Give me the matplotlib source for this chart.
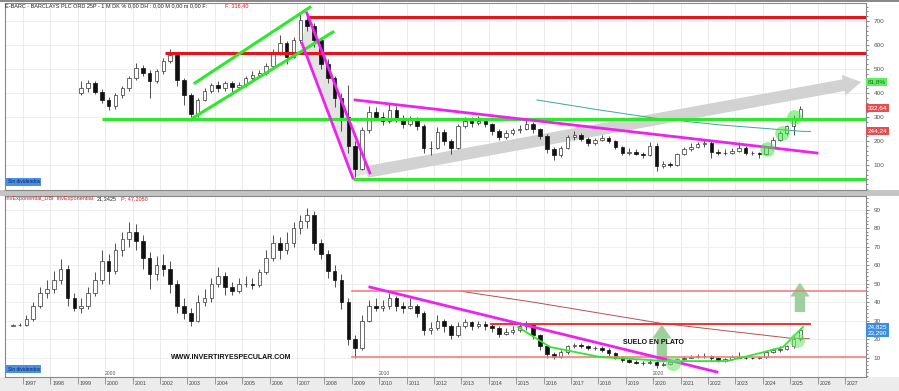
import numpy as np
import matplotlib.pyplot as plt
from matplotlib.patches import Rectangle, Polygon

plt.rcParams['font.family'] = ['Liberation Sans', 'DejaVu Sans']

# ---- Barclays price, quarterly candles (pence) from 1999 Q1 ----
top_start = 1999.0
top_open0 = 400
top_close = [420, 440, 405, 372, 345, 392, 420, 462, 505, 482, 452, 490,
             532, 560, 455, 392, 312, 372, 410, 432, 420, 442, 425, 432,
             462, 476, 482, 512, 572, 610, 552, 622, 705, 680, 622, 520,
             462, 380, 300, 180, 85, 245, 322, 300, 282, 330, 292, 270,
             290, 262, 172, 172, 236, 200, 172, 262, 282, 276, 284, 270,
             240, 216, 232, 246, 252, 272, 248, 222, 166, 142, 172, 216,
             226, 210, 192, 206, 212, 200, 176, 152, 156, 146, 142, 180,
             95, 104, 100, 146, 166, 176, 186, 192, 156, 150, 150, 160,
             172, 150, 150, 146, 176, 206, 232, 262, 296, 332]
top_high = [448, 456, 450, 418, 385, 400, 430, 472, 525, 515, 495, 500,
            545, 585, 565, 462, 400, 380, 420, 440, 448, 452, 450, 445,
            470, 490, 495, 525, 585, 640, 615, 635, 735, 720, 690, 630,
            540, 470, 400, 435, 200, 260, 345, 340, 320, 360, 345, 310,
            305, 300, 270, 200, 260, 250, 210, 270, 300, 300, 305, 295,
            275, 250, 245, 255, 265, 295, 280, 255, 230, 175, 180, 225,
            240, 232, 215, 212, 225, 220, 205, 180, 170, 165, 155, 195,
            190, 115, 112, 150, 175, 190, 195, 205, 198, 168, 165, 170,
            195, 180, 160, 155, 180, 215, 240, 268, 310, 345]
top_low = [390, 405, 395, 360, 330, 335, 380, 410, 455, 470, 380, 440,
           480, 525, 430, 350, 285, 300, 365, 400, 405, 410, 405, 415,
           425, 450, 465, 475, 505, 560, 520, 545, 610, 660, 590, 500,
           440, 340, 240, 150, 50, 80, 235, 290, 265, 275, 280, 255,
           262, 245, 150, 140, 165, 185, 145, 165, 255, 260, 265, 260,
           225, 205, 210, 225, 235, 245, 235, 210, 150, 120, 135, 165,
           205, 200, 180, 185, 200, 190, 165, 140, 140, 140, 130, 138,
           75, 88, 92, 95, 140, 160, 170, 175, 130, 140, 140, 145,
           155, 140, 142, 130, 140, 170, 200, 225, 225, 290]

# ---- Relative indicator (InvExponential), quarterly candles from 1996 Q3 ----
bot_start = 1996.5
bot_open0 = 27.2
bot_close = [27.5, 27.8, 31, 38, 45, 47, 52, 58, 42, 37, 38, 45, 52, 62,
             57, 68, 74, 78, 73, 64, 55, 60, 58, 50, 38, 34, 30, 40, 42, 50,
             54, 48, 46, 50, 50, 49, 56, 64, 72, 68, 72, 80, 84, 87, 72, 66,
             57, 52, 40, 20, 15, 30, 38, 37, 38, 42, 38, 37, 38, 34, 25, 26,
             30, 27, 22, 27, 29, 27, 28, 27, 26, 23, 24, 25, 27, 27.5, 22, 16,
             12, 10.5, 13, 16, 16.8, 16, 15, 15, 14, 12.5, 10, 8.5,
             7.5, 7, 7, 7.8, 6, 6.5, 7.5, 9, 10, 10.5, 11, 11, 10, 8, 9, 10.5,
             10, 9.8, 9.7, 10.5, 13, 14, 14.5, 16, 20, 24.8]
bot_high = [28, 28.5, 33, 40, 48, 52, 57, 63, 60, 45, 42, 48, 56, 68,
            66, 72, 78, 83, 82, 76, 67, 65, 66, 62, 52, 42, 37, 44, 47, 53,
            59, 56, 51, 53, 54, 53, 58, 68, 76, 75, 78, 83, 87, 91, 89, 74,
            68, 60, 55, 42, 22, 33, 41, 42, 41, 45, 43, 40, 42, 39, 35, 29,
            33, 31, 28, 29, 31, 30, 30, 30, 28, 27, 26, 27, 29, 30, 28, 23,
            17, 13, 14, 17, 18, 18, 17, 16.5, 16, 15, 13, 11,
            9.5, 8.5, 8, 9, 8.5, 7.5, 8.5, 10, 11, 11.5, 12, 12.5, 11.5, 10.5, 10, 11.5,
            13, 11, 10.5, 11, 13.5, 15, 16, 17, 22, 26]
bot_low = [26.8, 27, 27, 30, 37, 42, 45, 50, 38, 35, 34, 36, 43, 50,
           50, 55, 65, 70, 68, 58, 47, 52, 54, 45, 34, 31, 27, 29, 38, 40,
           48, 44, 44, 45, 48, 47, 48, 55, 62, 63, 66, 70, 77, 80, 68, 63,
           53, 48, 36, 17, 10, 14, 29, 35, 35, 36, 35, 34, 36, 32, 22, 23,
           25, 24, 20, 21, 26, 25, 26, 25, 24, 21, 22, 23, 24, 25, 20, 14,
           10, 9, 10, 12, 15, 15, 14, 14, 13, 11, 9, 7.5,
           7, 6.5, 6, 6.5, 4.5, 5.5, 6, 7, 8.5, 9.5, 10, 10, 8, 7.5, 7.5, 8.5,
           9.5, 9, 9, 9, 10, 12.5, 13, 14, 15, 19]

# ---- drawn analysis (year, value) ----
red_levels = [(2007.35, 718), (2002.18, 565)]
green_levels = [(1999.88, 292), (2009.04, 42)]
green_channel = [((2003.28, 442), (2007.47, 757)), ((2003.2, 296), (2008.31, 654))]
magenta_top = [((2007.36, 733), (2009.66, 67)), ((2007.18, 608), (2009.04, 46)),
               ((2009.12, 371), (2025.98, 150))]
gray_arrow = ((2009.55, 71), (2027.6, 446))
ma_years = [2015.76, 2018.06, 2020.0, 2022.44, 2025.47, 2025.75]
ma_vals = [371, 329, 296, 267, 240, 240]
blob_years = [2024.15, 2024.7, 2025.15]
blob_vals = [165, 235, 300]

mag_bot = ((2009.66, 48.1), (2022.33, 2.2))
salmon_levels = [(2009.0, 46.0), (2009.0, 10.3)]
red_bot = (2014.1, 2025.72, 28.1)
ma2_years = [2012.95, 2015.6, 2020.25, 2024.99, 2025.7]
ma2_vals = [45.9, 40.0, 28.6, 20.5, 20.2]
saucer_years = [2015.07, 2016.24, 2018.06, 2020.5, 2022.69, 2023.9, 2024.74, 2025.47]
saucer_vals = [26.5, 15.7, 10.3, 8.1, 8.1, 12.4, 15.7, 26.5]
up_arrows = [((2020.32, 7.6), (2020.32, 27.8)), ((2025.36, 34.6), (2025.36, 50.5))]
bot_blobs = [(2020.72, 7.0), (2025.25, 19.5)]

years = list(range(1997, 2028))
XL = (1996.343, 2027.77)


def candles(ax, start, open0, close, high, low, width=0.13):
    close = np.array(close, float)
    opens = np.concatenate([[open0], close[:-1]])
    t = start + 0.25 * np.arange(len(close)) + 0.125
    up = close >= opens
    ax.vlines(t, low, high, color='#333333', lw=0.6, zorder=3)
    ax.bar(t[up], (close - opens)[up], bottom=opens[up], width=width,
           color='white', edgecolor='#333333', lw=0.5, zorder=4)
    ax.bar(t[~up], (opens - close)[~up], bottom=close[~up], width=width,
           color='#111111', edgecolor='#111111', lw=0.5, zorder=4)


def right_box(ax, y, txt, fc, tc='white'):
    ax.text(1.002, y, txt, transform=ax.get_yaxis_transform(), ha='left', va='center',
            fontsize=4.6, color=tc,
            bbox=dict(boxstyle='square,pad=0.25', fc=fc, ec='none'), zorder=10, clip_on=False)


fig = plt.figure(figsize=(8.99, 3.91), dpi=100)
fig.patch.set_facecolor('white')
fig.patches.append(Rectangle((0, 1 - 196 / 391), 1, 6 / 391, transform=fig.transFigure,
                             fc='#c4c4c4', ec='none', zorder=-5))
fig.patches.append(Rectangle((0, 0), 1, 14 / 391, transform=fig.transFigure,
                             fc='#ececec', ec='none', zorder=-5))
fig.patches.append(Rectangle((0, 1 - 2 / 391), 1, 2 / 391, transform=fig.transFigure,
                             fc='#8a8a8a', ec='none', zorder=-5))

ax1 = fig.add_axes([5 / 899, 1 - 190 / 391, 861 / 899, 187 / 391])
ax2 = fig.add_axes([5 / 899, 1 - 377 / 391, 861 / 899, 181 / 391])

for ax, yl, yt, ymin in [(ax1, (-4.2, 775), range(100, 800, 100), 20),
                         (ax2, (-0.5, 97.3), range(10, 100, 10), 2)]:
    ax.set_xlim(*XL)
    ax.set_ylim(*yl)
    ax.yaxis.tick_right()
    ax.set_yticks(list(yt))
    ax.set_yticks(np.arange(0, yl[1], ymin), minor=True)
    ax.tick_params(axis='y', which='both', labelsize=4.6, colors='#555555', length=2.5, width=0.5, pad=3)
    ax.tick_params(axis='y', which='minor', length=1.5)
    for y in yt:
        ax.axhline(y, color='#ececec', lw=0.6, zorder=0)
    for x in years:
        ax.axvline(x, color='#e8e8e8', lw=0.6, zorder=0)
    for s in ax.spines.values():
        s.set_color('#888888')
        s.set_linewidth(0.8)

ax1.set_xticks([])
ax2.set_xticks(years)
ax2.set_xticklabels([])
ax2.set_xticks([y + 0.28 for y in years], minor=True)
ax2.set_xticklabels([str(y) for y in years], minor=True)
ax2.tick_params(axis='x', which='major', length=5, width=0.5, color='#777777', direction='out')
ax2.tick_params(axis='x', which='minor', length=0, labelsize=3.8, labelcolor='#444444', pad=3)

# ---------------- top panel ----------------
(a, b), (c, d) = magenta_top[0], magenta_top[1]
ax1.add_patch(Polygon([a, b, d, c], closed=True, fc='#d8d8d8', ec='none', alpha=0.7, zorder=1))
ax1.annotate('', xy=gray_arrow[1], xytext=gray_arrow[0], annotation_clip=False,
             arrowprops=dict(arrowstyle='simple,head_width=1.5,head_length=1.3,tail_width=0.85',
                             mutation_scale=10, fc='#d2d2d2', ec='none', shrinkA=0, shrinkB=0),
             zorder=2)
candles(ax1, top_start, top_open0, top_close, top_high, top_low)
for x0, v in red_levels:
    ax1.plot([x0, XL[1]], [v, v], color='#e8141c', lw=2.2, zorder=5, solid_capstyle='butt')
for x0, v in green_levels:
    ax1.plot([x0, XL[1]], [v, v], color='#2ee82e', lw=2.2, zorder=5, solid_capstyle='butt')
for p, q in green_channel:
    ax1.plot([p[0], q[0]], [p[1], q[1]], color='#2ee82e', lw=2.2, zorder=5)
for p, q in magenta_top:
    ax1.plot([p[0], q[0]], [p[1], q[1]], color='#ee22ee', lw=2.0, zorder=5)
ax1.plot(ma_years, ma_vals, color='#3aa89a', lw=0.7, zorder=4)
ax1.scatter(blob_years, blob_vals, s=110, color='#3ee83e', alpha=0.55, lw=0, zorder=6)

ax1.text(0.0, 1.0, 'E-BARC - BARCLAYS PLC ORD 25P - 1 M DK % 0,00 DH : 0,00 M 0,00 m 0,00 F:',
         transform=ax1.transAxes, ha='left', va='top', fontsize=4, color='#222222')
ax1.text(0.255, 1.0, 'F: 316,40', transform=ax1.transAxes, ha='left', va='top',
         fontsize=4, color='#e8141c')
ax1.text(0.003, 0.03, 'Sin dividendos', transform=ax1.transAxes, ha='left', va='bottom',
         fontsize=3.5, color='#102060', bbox=dict(boxstyle='square,pad=0.3', fc='#4a90e2', ec='none'))
right_box(ax1, 446, '81,8%', '#5ef05e', '#226622')
right_box(ax1, 337, '332,64', '#e05050')
right_box(ax1, 242, '244,24', '#e05050')

# ---------------- bottom panel ----------------
candles(ax2, bot_start, bot_open0, bot_close, bot_high, bot_low)
for x0, v in salmon_levels:
    ax2.plot([x0, XL[1]], [v, v], color='#f08080', lw=1.2, zorder=5)
ax2.plot([red_bot[0], red_bot[1]], [red_bot[2]] * 2, color='#f02020', lw=1.3, zorder=5)
ax2.plot(ma2_years, ma2_vals, color='#b85050', lw=0.7, zorder=4)
ax2.plot([mag_bot[0][0], mag_bot[1][0]], [mag_bot[0][1], mag_bot[1][1]],
         color='#ee22ee', lw=2.0, zorder=6)
ax2.plot(saucer_years, saucer_vals, color='#2ee82e', lw=1.3, zorder=6)
for tail, tip in up_arrows:
    ax2.annotate('', xy=tip, xytext=tail,
                 arrowprops=dict(arrowstyle='simple,head_width=1.4,head_length=1.0,tail_width=0.75',
                                 mutation_scale=10, fc='#8cc88c', ec='none', alpha=0.85,
                                 shrinkA=0, shrinkB=0), zorder=3)
ax2.scatter([p[0] for p in bot_blobs], [p[1] for p in bot_blobs], s=120,
            color='#6ee86e', alpha=0.6, lw=0, zorder=7)
ax2.text(2020.0, 18.0, 'SUELO EN PLATO', ha='center', va='center', fontsize=5,
         fontweight='bold', color='#111111', zorder=8)
ax2.text(2004.6, 9.8, 'WWW.INVERTIRYESPECULAR.COM', ha='center', va='center', fontsize=5,
         fontweight='bold', color='#111111', zorder=8)
for d in (2000, 2010, 2020):
    ax2.text(d, 0.3, str(d), ha='left', va='bottom', fontsize=3.6, color='#555555')
ax2.text(0.0, 1.0, 'InvExponential_DBI  InvExponential', transform=ax2.transAxes,
         ha='left', va='top', fontsize=4, color='#e8141c')
ax2.text(0.107, 1.0, '21,3425', transform=ax2.transAxes, ha='left', va='top',
         fontsize=4, color='#222222')
ax2.text(0.135, 1.0, 'P: 47,2050', transform=ax2.transAxes, ha='left', va='top',
         fontsize=4, color='#e8141c')
ax2.text(0.003, 0.03, 'Sin dividendos', transform=ax2.transAxes, ha='left', va='bottom',
         fontsize=3.5, color='#102060', bbox=dict(boxstyle='square,pad=0.3', fc='#4a90e2', ec='none'))
right_box(ax2, 25.0, '24,825\n23,290', '#3c8fe0')

fig.savefig('out.png', dpi=100)
